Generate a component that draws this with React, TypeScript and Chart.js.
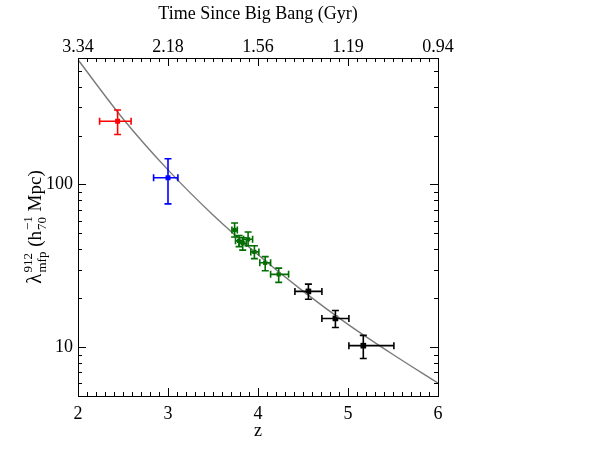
import React, { useEffect, useRef } from 'react';
import { Chart, registerables } from 'chart.js';

Chart.register(...registerables);

const FONT = '"Liberation Serif", "Times New Roman", serif';

// Axis ticks
const zTickValues = [2, 3, 4, 5, 6];
const gyrLabels = ['3.34', '2.18', '1.56', '1.19', '0.94'];
const mfpTickValues = [10, 100];

// Model curve
const curveZ = [2, 2.5, 3, 3.5, 4, 4.5, 5, 5.5, 6];
const curveMfp = [585, 254, 123, 65, 37, 22.1, 13.8, 9.0, 6.0];

// Red point
const redZ = [2.44];
const redZLo = [2.24];
const redZHi = [2.59];
const redMfp = [245];
const redMfpLo = [203];
const redMfpHi = [287];

// Blue point
const blueZ = [3.0];
const blueZLo = [2.84];
const blueZHi = [3.11];
const blueMfp = [110];
const blueMfpLo = [76];
const blueMfpHi = [144];

// Green points
const greenZ = [3.74, 3.79, 3.83, 3.89, 3.96, 4.08, 4.23];
const greenZLo = [3.71, 3.75, 3.79, 3.84, 3.92, 4.02, 4.14];
const greenZHi = [3.77, 3.83, 3.87, 3.94, 4.01, 4.14, 4.34];
const greenMfp = [52.5, 45, 43.5, 46, 38.5, 33, 28];
const greenMfpLo = [47.5, 41.5, 39.5, 42, 35, 29.5, 25];
const greenMfpHi = [58, 48.5, 47, 51, 42, 36, 30.6];

// Black points
const blackZ = [4.56, 4.86, 5.17];
const blackZLo = [4.41, 4.71, 5.01];
const blackZHi = [4.71, 5.01, 5.51];
const blackMfp = [22.0, 15.0, 10.2];
const blackMfpLo = [19.7, 13.2, 8.5];
const blackMfpHi = [24.4, 16.8, 11.8];

function makeSet(color: string, z: number[], zLo: number[], zHi: number[], m: number[], mLo: number[], mHi: number[], radius: number) {
  return {
    type: 'scatter' as const,
    data: z.map((v, i) => ({ x: v, y: m[i] })),
    err: z.map((_, i) => ({ zLo: zLo[i], zHi: zHi[i], lo: mLo[i], hi: mHi[i] })),
    backgroundColor: color,
    borderColor: color,
    pointStyle: 'rect',
    pointRadius: radius,
    borderWidth: 0,
    showLine: false,
  };
}

const errorBarPlugin = {
  id: 'errorBars',
  afterDatasetsDraw(chart: any) {
    const { ctx } = chart;
    const x = chart.scales.x;
    const y = chart.scales.y;
    const cap = 3.5;
    chart.data.datasets.forEach((ds: any) => {
      if (!ds.err) return;
      ctx.save();
      ctx.strokeStyle = ds.borderColor;
      ctx.lineWidth = 1.6;
      ds.data.forEach((p: any, i: number) => {
        const e = ds.err[i];
        const px = x.getPixelForValue(p.x);
        const py = y.getPixelForValue(p.y);
        const x1 = x.getPixelForValue(e.zLo);
        const x2 = x.getPixelForValue(e.zHi);
        const y1 = y.getPixelForValue(e.lo);
        const y2 = y.getPixelForValue(e.hi);
        ctx.beginPath();
        ctx.moveTo(x1, py); ctx.lineTo(x2, py);
        ctx.moveTo(x1, py - cap); ctx.lineTo(x1, py + cap);
        ctx.moveTo(x2, py - cap); ctx.lineTo(x2, py + cap);
        ctx.moveTo(px, y1); ctx.lineTo(px, y2);
        ctx.moveTo(px - cap, y1); ctx.lineTo(px + cap, y1);
        ctx.moveTo(px - cap, y2); ctx.lineTo(px + cap, y2);
        ctx.stroke();
      });
      ctx.restore();
    });
  },
};

const framePlugin = {
  id: 'frameTicks',
  afterDraw(chart: any) {
    const { ctx, chartArea } = chart;
    const x = chart.scales.x;
    const y = chart.scales.y;
    const left = Math.round(chartArea.left);
    const right = Math.round(chartArea.right);
    const top = Math.round(chartArea.top);
    const bottom = Math.round(chartArea.bottom);
    ctx.save();
    ctx.strokeStyle = '#000';
    ctx.lineWidth = 1;
    ctx.strokeRect(left + 0.5, top + 0.5, right - left, bottom - top);
    ctx.beginPath();
    // x ticks (major every 1, minor every 0.1)
    for (let i = 0; i <= 40; i++) {
      const v = zTickValues[0] + i * 0.1;
      const px = Math.round(x.getPixelForValue(v)) + 0.5;
      const len = i % 10 === 0 ? 8 : 4;
      ctx.moveTo(px, bottom); ctx.lineTo(px, bottom - len);
      ctx.moveTo(px, top); ctx.lineTo(px, top + len);
    }
    // y ticks (log)
    for (const dec of [1, 10, 100]) {
      for (let k = 1; k <= 9; k++) {
        const v = k * dec;
        if (v < y.min || v > y.max) continue;
        const py = Math.round(y.getPixelForValue(v)) + 0.5;
        const len = k === 1 ? 8 : 4;
        ctx.moveTo(left, py); ctx.lineTo(left + len, py);
        ctx.moveTo(right, py); ctx.lineTo(right - len, py);
      }
    }
    ctx.stroke();

    // y-axis title with super/subscripts
    const mainFont = `19px ${FONT}`;
    const lamFont = `21px ${FONT}`;
    const smallFont = `13px ${FONT}`;
    ctx.fillStyle = '#000';
    ctx.textAlign = 'left';
    ctx.textBaseline = 'alphabetic';
    const segs: any[] = [
      { t: 'λ', f: lamFont },
      { sup: '912', sub: 'mfp' },
      { t: ' (h', f: mainFont },
      { sup: '\u22121', sub: '70' },
      { t: ' Mpc)', f: mainFont },
    ];
    let total = 0;
    const widths = segs.map((s) => {
      let w;
      if (s.t) { ctx.font = s.f; w = ctx.measureText(s.t).width; }
      else { ctx.font = smallFont; w = Math.max(ctx.measureText(s.sup).width, ctx.measureText(s.sub).width) + 1; }
      total += w;
      return w;
    });
    ctx.translate(41, (chartArea.top + chartArea.bottom) / 2);
    ctx.rotate(-Math.PI / 2);
    let cx = -total / 2;
    segs.forEach((s, i) => {
      if (s.t) { ctx.font = s.f; ctx.fillText(s.t, cx, 0); }
      else {
        ctx.font = smallFont;
        ctx.fillText(s.sup, cx + 1, -9);
        ctx.fillText(s.sub, cx + 1, 5);
      }
      cx += widths[i];
    });
    ctx.restore();
  },
};

export default function App() {
  const ref = useRef<HTMLCanvasElement>(null);
  useEffect(() => {
    document.body.style.margin = '0';
    const canvas = ref.current!;
    const tickFont = { family: FONT, size: 18 };
    const chart = new Chart(canvas, {
      type: 'scatter',
      data: {
        datasets: [
          {
            type: 'line',
            data: curveZ.map((v, i) => ({ x: v, y: curveMfp[i] })),
            borderColor: '#7a7a7a',
            borderWidth: 1.4,
            pointRadius: 0,
            cubicInterpolationMode: 'monotone',
            fill: false,
          } as any,
          makeSet('#ff0000', redZ, redZLo, redZHi, redMfp, redMfpLo, redMfpHi, 3.5) as any,
          makeSet('#0000ff', blueZ, blueZLo, blueZHi, blueMfp, blueMfpLo, blueMfpHi, 3.5) as any,
          makeSet('#006e00', greenZ, greenZLo, greenZHi, greenMfp, greenMfpLo, greenMfpHi, 3) as any,
          makeSet('#000000', blackZ, blackZLo, blackZHi, blackMfp, blackMfpLo, blackMfpHi, 4) as any,
        ],
      },
      options: {
        responsive: false,
        animation: false,
        layout: { padding: { left: 0, right: 160, top: 0, bottom: 0 } },
        plugins: { legend: { display: false }, tooltip: { enabled: false } },
        scales: {
          x: {
            type: 'linear',
            axis: 'x',
            position: 'bottom',
            min: 2,
            max: 6,
            afterBuildTicks: (s: any) => { s.ticks = zTickValues.map((v) => ({ value: v })); },
            ticks: { color: '#000', font: tickFont, padding: 7, maxRotation: 0, autoSkip: false, callback: (v: any) => String(v) },
            grid: { display: false, drawTicks: false },
            border: { display: false },
            title: { display: true, text: 'z', color: '#000', font: tickFont, padding: { top: 0, bottom: 20 } },
            afterFit: (s: any) => { s.height = 66; },
          },
          x2: {
            type: 'linear',
            axis: 'x',
            position: 'top',
            min: 2,
            max: 6,
            afterBuildTicks: (s: any) => { s.ticks = zTickValues.map((v) => ({ value: v })); },
            ticks: {
              color: '#000', font: tickFont, padding: 0, maxRotation: 0, autoSkip: false,
              callback: (v: any) => { const i = zTickValues.indexOf(v); return i >= 0 ? gyrLabels[i] : ''; },
            },
            grid: { display: false, drawTicks: false },
            border: { display: false },
            title: { display: true, text: 'Time Since Big Bang (Gyr)', color: '#000', font: tickFont, padding: { top: 3, bottom: 0 } },
            afterFit: (s: any) => { s.height = 58; },
          },
          y: {
            type: 'logarithmic',
            position: 'left',
            min: 5,
            max: 600,
            afterBuildTicks: (s: any) => { s.ticks = mfpTickValues.map((v) => ({ value: v })); },
            ticks: { color: '#000', font: tickFont, padding: 5, autoSkip: false, callback: (v: any) => String(v) },
            grid: { display: false, drawTicks: false },
            border: { display: false },
            afterFit: (s: any) => { s.width = 78; },
          },
        },
      } as any,
      plugins: [errorBarPlugin, framePlugin],
    });
    return () => chart.destroy();
  }, []);
  return (
    <div style={{ width: 598, height: 462 }}>
      <canvas ref={ref} width={598} height={462} />
    </div>
  );
}
